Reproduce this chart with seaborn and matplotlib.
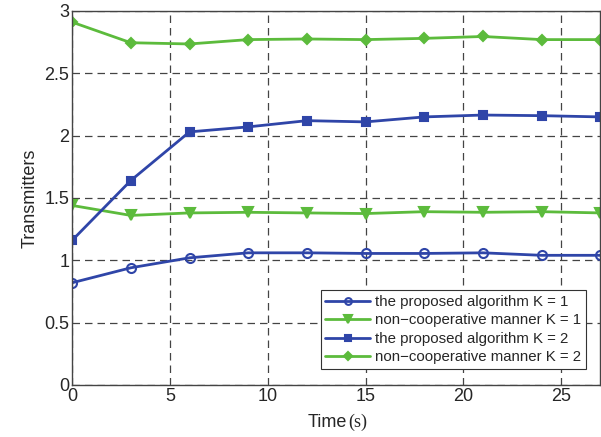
import numpy as np
import pandas as pd
import seaborn as sns
import matplotlib
matplotlib.use('Agg')
import matplotlib.pyplot as plt

# data
time = [0, 3, 6, 9, 12, 15, 18, 21, 24, 27]
proposed_k1 = [0.82, 0.94, 1.02, 1.06, 1.06, 1.055, 1.055, 1.06, 1.04, 1.04]
noncoop_k1 = [1.44, 1.36, 1.38, 1.385, 1.38, 1.375, 1.39, 1.385, 1.39, 1.38]
proposed_k2 = [1.16, 1.64, 2.03, 2.07, 2.12, 2.11, 2.15, 2.165, 2.16, 2.15]
noncoop_k2 = [2.91, 2.745, 2.735, 2.77, 2.775, 2.77, 2.78, 2.795, 2.77, 2.77]
labels = ['the proposed algorithm K = 1', 'non\u2212cooperative manner K = 1',
          'the proposed algorithm K = 2', 'non\u2212cooperative manner K = 2']

sns.set_style('white')
plt.rcParams['font.family'] = ['Liberation Sans', 'DejaVu Sans']

blue = '#2f45a8'
green = '#5cbb3c'

fig = plt.figure(figsize=(6.01, 4.37), dpi=100)
ax = fig.add_axes([0.12, 0.119, 0.879, 0.856])

series = [proposed_k1, noncoop_k1, proposed_k2, noncoop_k2]
# colour, marker, face, size
styles = [(blue, 'o', 'none', 6.5), (green, 'v', green, 7), (blue, 's', blue, 5.5), (green, 'D', green, 5.5)]
for vals, lab, (c, m, fc, ms) in zip(series, labels, styles):
    df = pd.DataFrame({'t': time, 'v': vals})
    sns.lineplot(data=df, x='t', y='v', ax=ax, color=c, marker=m, markersize=ms,
                 markerfacecolor=fc, markeredgecolor=c, markeredgewidth=1.5,
                 linewidth=2, label=lab)

ax.set_xlim(0, 27)
ax.set_ylim(0, 3)
ax.set_xticks([0, 5, 10, 15, 20, 25])
ax.set_yticks([0, 0.5, 1, 1.5, 2, 2.5, 3])
ax.set_yticklabels(['0', '0.5', '1', '1.5', '2', '2.5', '3'])
ax.grid(True, color='#444444', linestyle=(0, (6, 4)), linewidth=0.9)
ax.tick_params(direction='in', labelsize=13, length=4, pad=2)
for s in ax.spines.values():
    s.set_color('#444444')
    s.set_linewidth(1)

ax.set_ylabel('Transmitters', fontsize=13, labelpad=4)
ax.set_xlabel('')
fig.text(0.577, 0.023, 'Time', fontsize=13, ha='right', va='baseline')
fig.text(0.579, 0.023, '(s)', fontsize=13, ha='left', va='baseline', family='Liberation Serif')

leg = ax.legend(loc='lower right', bbox_to_anchor=(0.972, 0.043), fontsize=10.8,
                frameon=True, fancybox=False, edgecolor='#333333', framealpha=1,
                borderpad=0.3, labelspacing=0.3, handlelength=3, handletextpad=0.3,
                borderaxespad=0, markerscale=0.75)
leg.get_frame().set_linewidth(0.8)

fig.savefig('out.png', dpi=100)
